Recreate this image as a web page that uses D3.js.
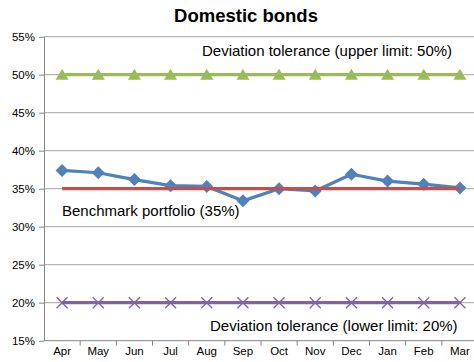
<!DOCTYPE html>
<html>
<head>
<meta charset="utf-8">
<script src="https://cdn.jsdelivr.net/npm/d3@7"></script>
<style>
  html, body { margin: 0; padding: 0; background: #fff; }
  svg { display: block; font-family: "Liberation Sans", Arial, sans-serif; }
</style>
</head>
<body>
<svg id="chart" width="474" height="362"></svg>
<script>
// Monthly categories (fiscal year Apr–Mar)
const months = ["Apr", "May", "Jun", "Jul", "Aug", "Sep", "Oct", "Nov", "Dec", "Jan", "Feb", "Mar"];
// Actual allocation to domestic bonds (%)
const actual = [37.4, 37.1, 36.2, 35.4, 35.3, 33.4, 35.0, 34.7, 36.9, 36.0, 35.6, 35.1];
// Benchmark and tolerance bands (%)
const benchmark = [35, 35, 35, 35, 35, 35, 35, 35, 35, 35, 35, 35];
const upperLimit = [50, 50, 50, 50, 50, 50, 50, 50, 50, 50, 50, 50];
const lowerLimit = [20, 20, 20, 20, 20, 20, 20, 20, 20, 20, 20, 20];
const yTicks = [15, 20, 25, 30, 35, 40, 45, 50, 55];

const svg = d3.select("#chart");
const plotLeft = 44, plotRight = 478, plotTop = 36.7, plotBottom = 340.7;

const x = d3.scaleBand().domain(months).range([plotLeft, plotRight]);
const y = d3.scaleLinear().domain([15, 55]).range([plotBottom, plotTop]);
const cx = m => x(m) + x.bandwidth() / 2;

// Title
svg.append("text")
  .attr("x", 246).attr("y", 22)
  .attr("text-anchor", "middle")
  .attr("font-size", 18.5).attr("font-weight", "bold")
  .text("Domestic bonds");

// Horizontal gridlines
svg.append("g").selectAll("line")
  .data(yTicks.filter(t => t > 15))
  .join("line")
  .attr("x1", plotLeft).attr("x2", 474)
  .attr("y1", d => y(d)).attr("y2", d => y(d))
  .attr("stroke", "#a6a6a6").attr("stroke-width", 1);

// Y axis
const yAxis = svg.append("g")
  .attr("transform", `translate(${plotLeft},0)`)
  .call(d3.axisLeft(y).tickValues(yTicks).tickFormat(d => d + "%").tickSize(5).tickSizeOuter(0));
yAxis.select(".domain").attr("stroke", "#868686");
yAxis.selectAll(".tick line").attr("stroke", "#868686");
yAxis.selectAll(".tick text").attr("font-size", 11.5).attr("fill", "#000")
  .attr("font-family", "Liberation Sans, Arial, sans-serif").attr("x", -9);

// X axis with ticks at category boundaries
const xAxisG = svg.append("g").attr("transform", `translate(0,${plotBottom})`);
xAxisG.append("line").attr("x1", plotLeft).attr("x2", 474).attr("y1", 0).attr("y2", 0)
  .attr("stroke", "#868686");
xAxisG.selectAll("line.tk")
  .data(months)
  .join("line").attr("class", "tk")
  .attr("x1", d => x(d) + x.bandwidth()).attr("x2", d => x(d) + x.bandwidth())
  .attr("y1", 0).attr("y2", 5)
  .attr("stroke", "#868686");
xAxisG.selectAll("text")
  .data(months)
  .join("text")
  .attr("x", d => cx(d)).attr("y", 14)
  .attr("text-anchor", "middle")
  .attr("font-size", 11.5)
  .text(d => d);

const line = d3.line().x((d, i) => cx(months[i])).y(d => y(d));

function series(values, color, marker) {
  const g = svg.append("g");
  g.append("path").datum(values)
    .attr("d", line).attr("fill", "none")
    .attr("stroke", color).attr("stroke-width", 3.2).attr("stroke-linejoin", "round");
  const pts = g.selectAll("g.pt").data(values).join("g")
    .attr("transform", (d, i) => `translate(${cx(months[i])},${y(d)})`);
  marker(pts, color);
}

const triangle = (sel, c) => sel.append("path").attr("d", "M0,-6L6.5,5L-6.5,5Z").attr("fill", c);
const diamond = (sel, c) => sel.append("path").attr("d", "M0,-6.5L6.5,0L0,6.5L-6.5,0Z").attr("fill", c);
const cross = (sel, c) => sel.append("path").attr("d", "M-5.5,-5.5L5.5,5.5M-5.5,5.5L5.5,-5.5")
  .attr("stroke", c).attr("stroke-width", 1.3).attr("fill", "none");

series(upperLimit, "#9bbb59", triangle);
series(lowerLimit, "#8064a2", cross);
series(actual, "#4f81bd", diamond);
// Benchmark line drawn on top of the actual series
svg.append("path").datum(benchmark)
  .attr("d", line).attr("fill", "none")
  .attr("stroke", "#c0504d").attr("stroke-width", 3.2);

// Annotations
const notes = [
  { text: "Deviation tolerance (upper limit: 50%)", x: 202, y: 56 },
  { text: "Benchmark portfolio (35%)", x: 62, y: 216 },
  { text: "Deviation tolerance (lower limit: 20%)", x: 210, y: 331 }
];
svg.append("g").selectAll("text").data(notes).join("text")
  .attr("x", d => d.x).attr("y", d => d.y)
  .attr("font-size", 15)
  .text(d => d.text);
</script>
</body>
</html>
